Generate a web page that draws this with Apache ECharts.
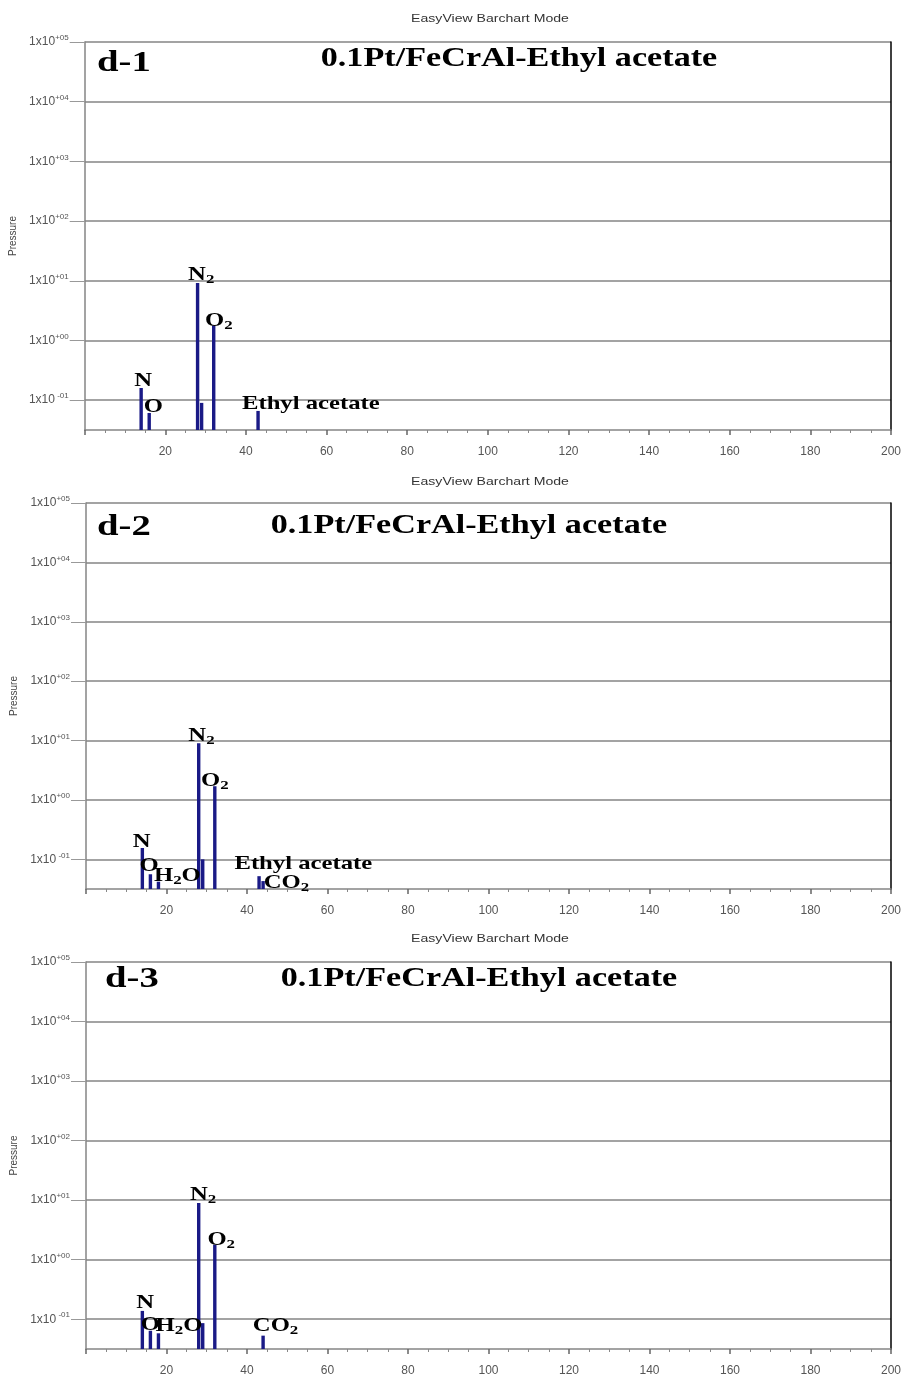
<!DOCTYPE html>
<html><head><meta charset="utf-8">
<script src="https://cdn.jsdelivr.net/npm/echarts@6/dist/echarts.min.js"></script>
<style>html,body{margin:0;padding:0;background:#fff}#c{width:904px;height:1379px}</style>
</head><body><div id="c"></div>
<script>
// ---------- data ----------
const chartHeader = 'EasyView Barchart Mode';
const panelNames = ['d-1', 'd-2', 'd-3'];
const sampleTitle = '0.1Pt/FeCrAl-Ethyl acetate';
const yAxisName = 'Pressure';
const yTickExponents = [-1, 0, 1, 2, 3, 4, 5];   // 1x10^-01 ... 1x10^+05
const xTickStep = 20;                            // m/z labels 20..200

// panel d-1 : m/z and pressure
const mz1 = [14, 16, 28, 29, 32, 43];
const p1  = [0.16, 0.061, 9.2, 0.09, 1.78, 0.066];
// panel d-2
const mz2 = [14, 16, 18, 28, 29, 32, 43, 44];
const p2  = [0.155, 0.056, 0.042, 9.0, 0.10, 1.7, 0.052, 0.043];
// panel d-3
const mz3 = [14, 16, 18, 28, 29, 32, 44];
const p3  = [0.138, 0.064, 0.058, 9.0, 0.086, 1.78, 0.053];

// peak annotations (text, anchor m/z, anchor pressure)
const ann1Text = ['N', 'O', 'N2', 'O2', 'Ethyl acetate'];
const ann1Mz   = [14.5, 17.0, 28.9, 33.3, 56.1];
const ann1P    = [0.21, 0.078, 12.3, 2.14, 0.087];
const ann2Text = ['N', 'O', 'H2O', 'N2', 'O2', 'Ethyl acetate', 'CO2'];
const ann2Mz   = [13.8, 15.7, 22.7, 28.7, 32.0, 54.0, 49.8];
const ann2P    = [0.195, 0.078, 0.052, 12.0, 2.09, 0.083, 0.040];
const ann3Text = ['N', 'O', 'H2O', 'N2', 'O2', 'CO2'];
const ann3Mz   = [14.7, 16.0, 23.1, 29.1, 33.6, 47.1];
const ann3P    = [0.186, 0.079, 0.078, 12.0, 2.14, 0.076];

// ---------- styling / layout ----------
const Y_MIN = -1.5, Y_MAX = 5;
const BAR = '#1a1a86';
const GRAY = '#858585';
const LABEL = '#555';
const SERIF = '"Liberation Serif","Times New Roman",serif';
const SANS = '"Liberation Sans",Arial,sans-serif';
const STRETCH = 1.3;

const panels = [
  {mz: mz1, p: p1, at: ann1Text, am: ann1Mz, ap: ann1P, grid: {left: 84, top: 42, right: 7, height: 388},
   header: [490, 19], name: [97, 63], title: [519, 59]},
  {mz: mz2, p: p2, at: ann2Text, am: ann2Mz, ap: ann2P, grid: {left: 86, top: 503, right: 5, height: 386},
   header: [490, 482], name: [97, 527], title: [469, 526]},
  {mz: mz3, p: p3, at: ann3Text, am: ann3Mz, ap: ann3P, grid: {left: 86, top: 962, right: 8, height: 387},
   header: [490, 939], name: [105, 979], title: [479, 979]}
];

const grid = [], xAxis = [], yAxis = [], series = [], graphic = [];

function expLabel(v) {
  const e = Math.round(v);
  const s = (e < 0 ? '-' : '+') + String(Math.abs(e)).padStart(2, '0');
  return '1x10{s|' + (e < 0 ? ' ' : '') + s + '}';
}
function subFmt(t) { return t.replace(/(\d)/g, '{sub|$1}'); }

panels.forEach((pn, i) => {
  grid.push(Object.assign({containLabel: false, show: false}, pn.grid));
  xAxis.push({
    type: 'value', gridIndex: i, min: 0, max: 200, interval: xTickStep,
    axisLine: {show: true, onZero: false, lineStyle: {color: GRAY, width: 1.5}},
    axisTick: {show: true, length: 5, lineStyle: {color: '#666', width: 1.5}},
    minorTick: {show: true, splitNumber: 4, length: 3, lineStyle: {color: '#888', width: 1}},
    splitLine: {show: false},
    axisLabel: {showMinLabel: false, color: LABEL, fontSize: 12, fontFamily: SANS, margin: 16,
      formatter: v => (v === 0 ? '' : String(v))}
  });
  yAxis.push({
    type: 'value', gridIndex: i, min: Y_MIN, max: Y_MAX,
    name: yAxisName, nameLocation: 'middle', nameGap: 64, nameRotate: 90,
    nameTextStyle: {color: '#444', fontSize: 10, fontFamily: SANS},
    axisLine: {show: true, onZero: false, lineStyle: {color: GRAY, width: 1.5}},
    axisTick: {show: true, length: 15, customValues: yTickExponents, lineStyle: {color: '#999', width: 1}},
    axisLabel: {customValues: yTickExponents, color: LABEL, fontSize: 12, fontFamily: SANS, margin: 16,
      formatter: expLabel, rich: {s: {fontSize: 8, color: LABEL, fontFamily: SANS, verticalAlign: 'top', padding: [0, 0, 8, 0]}}},
    splitLine: {show: true, lineStyle: {color: GRAY, width: 1.5}}
  });
  yAxis.push({
    type: 'value', gridIndex: i, min: Y_MIN, max: Y_MAX, position: 'right',
    axisLine: {show: true, onZero: false, lineStyle: {color: '#000', width: 1.5}},
    axisTick: {show: false}, axisLabel: {show: false}, splitLine: {show: false}
  });
  series.push({
    type: 'custom', xAxisIndex: i, yAxisIndex: 2 * i, clip: true,
    data: pn.mz.map((m, k) => [m, Math.log10(pn.p[k])]),
    renderItem: (params, api) => {
      const top = api.coord([api.value(0), api.value(1)]);
      const base = api.coord([api.value(0), Y_MIN]);
      const w = 3.4;
      return {type: 'rect', shape: {x: top[0] - w / 2, y: top[1], width: w, height: base[1] - top[1]},
        style: {fill: BAR}};
    }
  });
  const names = pn.at;
  series.push({
    type: 'custom', xAxisIndex: i, yAxisIndex: 2 * i, silent: true, z: 5,
    data: pn.at.map((t, k) => [pn.am[k], Math.log10(pn.ap[k])]),
    renderItem: (params, api) => {
      const pt = api.coord([api.value(0), api.value(1)]);
      return {type: 'text', x: pt[0], y: pt[1], scaleX: STRETCH,
        style: {text: subFmt(names[params.dataIndex]), fill: '#000', fontSize: 19, fontWeight: 'bold',
          fontFamily: SERIF, align: 'center', verticalAlign: 'middle',
          rich: {sub: {fontSize: 13, fontWeight: 'bold', fontFamily: SERIF, fill: '#000', padding: [9, 0, 0, 0]}}}};
    }
  });
  graphic.push({type: 'text', x: pn.header[0], y: pn.header[1], silent: true, scaleX: 1.28,
    style: {text: chartHeader, fontSize: 11, fontFamily: SANS, fill: '#333', align: 'center', verticalAlign: 'middle'}});
  graphic.push({type: 'text', x: pn.name[0], y: pn.name[1], silent: true, z: 10, scaleX: 1.29,
    style: {text: panelNames[i], fontSize: 30, fontWeight: 'bold', fontFamily: SERIF, fill: '#000', align: 'left', verticalAlign: 'middle'}});
  graphic.push({type: 'text', x: pn.title[0], y: pn.title[1], silent: true, z: 10, scaleX: 1.22,
    style: {text: sampleTitle, fontSize: 28, fontWeight: 'bold', fontFamily: SERIF, fill: '#000', align: 'center', verticalAlign: 'middle'}});
});

const chart = echarts.init(document.getElementById('c'), null, {renderer: 'canvas'});
chart.setOption({animation: false, backgroundColor: '#fff', grid, xAxis, yAxis, series, graphic});
</script></body></html>
